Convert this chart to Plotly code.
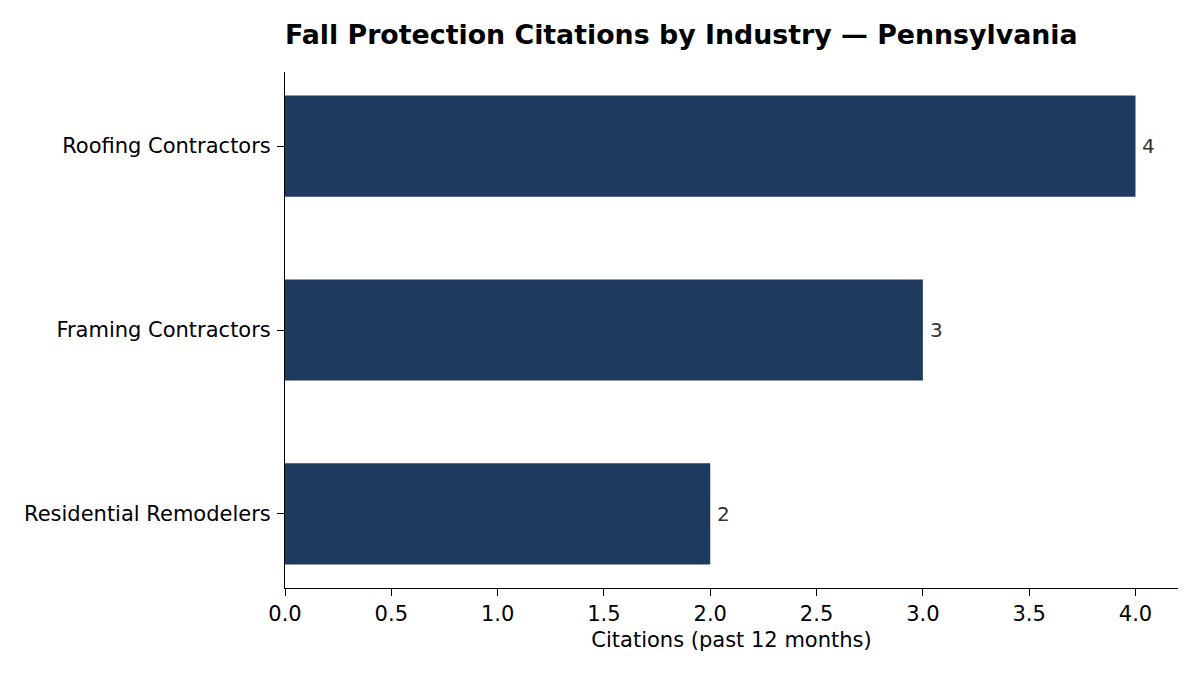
import plotly.graph_objects as go

categories = ["Residential Remodelers", "Framing Contractors", "Roofing Contractors"]
citations = [2, 3, 4]
x_ticks = [0, 0.5, 1.0, 1.5, 2.0, 2.5, 3.0, 3.5, 4.0]
x_tick_labels = ["0.0", "0.5", "1.0", "1.5", "2.0", "2.5", "3.0", "3.5", "4.0"]

BAR_COLOR = "#1f3a5f"
FONT = "DejaVu Sans"

fig = go.Figure()
fig.add_trace(go.Bar(
    y=list(range(len(categories))),
    x=citations,
    orientation="h",
    width=0.55,
    marker=dict(color=BAR_COLOR, line=dict(width=0)),
    hoverinfo="skip",
))

for i, v in enumerate(citations):
    fig.add_annotation(
        x=v, y=i, xref="x", yref="y", text=str(v), showarrow=False,
        xanchor="left", yanchor="middle", xshift=5,
        font=dict(family=FONT, size=20, color="#333333"),
    )

fig.update_layout(
    width=1200, height=675,
    margin=dict(l=285, r=22, t=72, b=87),
    paper_bgcolor="white", plot_bgcolor="white",
    showlegend=False,
    font=dict(family=FONT, size=21, color="black"),
    title=dict(
        text="<b>Fall Protection Citations by Industry — Pennsylvania</b>",
        font=dict(family=FONT, size=26.8, color="black"),
        x=285 / 1200, xanchor="left", xref="container",
        y=1 - 35 / 675, yanchor="middle", yref="container",
    ),
    xaxis=dict(
        range=[0, 4.2],
        tickvals=x_ticks, ticktext=x_tick_labels,
        ticks="outside", ticklen=7, tickwidth=1, tickcolor="black",
        showline=True, linecolor="black", linewidth=1,
        showgrid=False, zeroline=False,
        tickfont=dict(family=FONT, size=21, color="black"),
        title=dict(text="Citations (past 12 months)", standoff=7,
                   font=dict(family=FONT, size=21, color="black")),
    ),
    yaxis=dict(
        range=[-0.4025, 2.4025],
        tickvals=list(range(len(categories))), ticktext=categories,
        ticks="outside", ticklen=7, tickwidth=1, tickcolor="black",
        ticklabelstandoff=2,
        showline=True, linecolor="black", linewidth=1,
        showgrid=False, zeroline=False,
        tickfont=dict(family=FONT, size=21, color="black"),
    ),
)

fig.write_html("out.html")
